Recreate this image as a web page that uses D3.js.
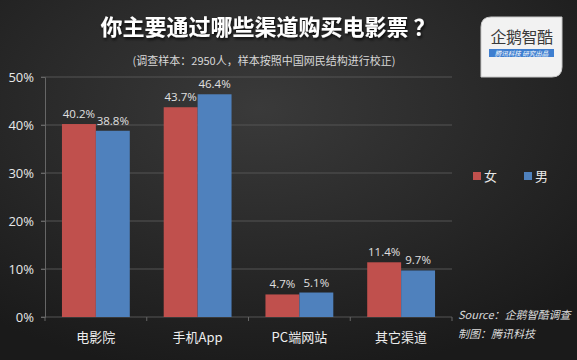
<!DOCTYPE html>
<html>
<head>
<meta charset="utf-8">
<script src="https://cdn.jsdelivr.net/npm/d3@7"></script>
<style>
  html, body { margin: 0; padding: 0; background: #222; }
  svg { display: block; font-family: "Noto Sans CJK SC", "Noto Sans", sans-serif; }
</style>
</head>
<body>
<svg width="577" height="360"></svg>
<script>
const CATEGORIES = ['电影院', '手机App', 'PC端网站', '其它渠道'];
const SERIES = ['女', '男'];
const FEMALE = [40.2, 43.7, 4.7, 11.4];
const MALE = [38.8, 46.4, 5.1, 9.7];
const Y_TICKS = [0, 10, 20, 30, 40, 50];
const COLORS = ['#c0504d', '#4f81bd'];

const W = 577, H = 360;
const PLOT = {left: 45, right: 452, top: 77, bottom: 317};

const svg = d3.select('svg');

// background
const defs = svg.append('defs');
const grad = defs.append('radialGradient').attr('id', 'bg')
    .attr('cx', '45%').attr('cy', '30%').attr('r', '75%');
grad.append('stop').attr('offset', '0%').attr('stop-color', '#3a3a3a');
grad.append('stop').attr('offset', '100%').attr('stop-color', '#1a1a1a');
svg.append('rect').attr('width', W).attr('height', H).attr('fill', 'url(#bg)');

const shadow = defs.append('filter').attr('id', 'sh').attr('x', '-10%').attr('y', '-30%')
    .attr('width', '120%').attr('height', '160%');
shadow.append('feDropShadow').attr('dx', 1).attr('dy', 2).attr('stdDeviation', 1.5)
    .attr('flood-color', '#000').attr('flood-opacity', 0.8);

// title
svg.append('text')
    .attr('x', 268).attr('y', 35)
    .attr('text-anchor', 'middle')
    .attr('fill', '#fff')
    .attr('font-size', 22).attr('font-weight', 'bold')
    .attr('filter', 'url(#sh)')
    .text('你主要通过哪些渠道购买电影票 ？');

svg.append('text')
    .attr('x', 264).attr('y', 65)
    .attr('text-anchor', 'middle')
    .attr('fill', '#d8d8d8')
    .attr('font-size', 11)
    .text('(调查样本：2950人，样本按照中国网民结构进行校正)');

// logo
const logo = svg.append('g').attr('transform', 'translate(481,17)');
logo.append('path')
    .attr('d', 'M10,0 H81 V50 Q81,60 71,60 H0 V10 Q0,0 10,0 Z')
    .attr('fill', '#f2f2f2').attr('stroke', '#c8c8c8');
logo.append('text').attr('x', 40.5).attr('y', 26).attr('text-anchor', 'middle')
    .attr('font-size', 16).attr('fill', '#3a3a3a').attr('letter-spacing', -0.5).text('企鹅智酷');
logo.append('rect').attr('x', 8).attr('y', 32).attr('width', 65).attr('height', 8)
    .attr('fill', '#3f7fd0');
logo.append('text').attr('x', 40.5).attr('y', 38.5).attr('text-anchor', 'middle')
    .attr('font-size', 6.5).attr('fill', '#fff').attr('font-style', 'italic')
    .text('腾讯科技  研究出品');

// scales
const x0 = d3.scaleBand().domain(CATEGORIES).range([PLOT.left, PLOT.right]).paddingInner(1 / 3).paddingOuter(1 / 6);
const x1 = d3.scaleBand().domain(SERIES).range([0, x0.bandwidth()]);
const y = d3.scaleLinear().domain([0, 50]).range([PLOT.bottom, PLOT.top]);

// gridlines
svg.append('g')
    .selectAll('line')
    .data(Y_TICKS)
    .join('line')
    .attr('x1', PLOT.left - 4).attr('x2', PLOT.right)
    .attr('y1', d => y(d)).attr('y2', d => y(d))
    .attr('stroke', '#555').attr('stroke-width', 1);

// y axis
const yAxis = svg.append('g')
    .attr('transform', `translate(${PLOT.left},0)`)
    .call(d3.axisLeft(y).tickValues(Y_TICKS).tickFormat(d => d + '%').tickSize(4).tickPadding(7));
yAxis.select('.domain').attr('stroke', '#666');
yAxis.selectAll('.tick line').attr('stroke', '#666');
yAxis.selectAll('text').attr('fill', '#e8e8e8').attr('font-size', 13)
    .attr('font-family', '"Open Sans", "Noto Sans", sans-serif');

// x axis tick marks at category boundaries
const step = x0.step();
const bounds = d3.range(CATEGORIES.length + 1).map(i => PLOT.left + i * step);
svg.append('g').selectAll('line')
    .data(bounds)
    .join('line')
    .attr('x1', d => d).attr('x2', d => d)
    .attr('y1', PLOT.bottom).attr('y2', PLOT.bottom + 4)
    .attr('stroke', '#666');

// bars
const rows = CATEGORIES.map((c, i) => ({cat: c, vals: [FEMALE[i], MALE[i]]}));
const groups = svg.append('g').selectAll('g')
    .data(rows)
    .join('g')
    .attr('transform', d => `translate(${x0(d.cat)},0)`);

groups.selectAll('rect')
    .data(d => d.vals.map((v, j) => ({s: SERIES[j], v, j})))
    .join('rect')
    .attr('x', d => x1(d.s))
    .attr('width', x1.bandwidth())
    .attr('y', d => y(d.v))
    .attr('height', d => y(0) - y(d.v))
    .attr('fill', d => COLORS[d.j]);

groups.selectAll('text.label')
    .data(d => d.vals.map((v, j) => ({s: SERIES[j], v, j})))
    .join('text')
    .classed('label', true)
    .attr('x', d => x1(d.s) + x1.bandwidth() / 2)
    .attr('y', d => y(d.v) - 6)
    .attr('text-anchor', 'middle')
    .attr('fill', '#e0e0e0')
    .attr('font-size', 11.5)
    .attr('font-family', '"Open Sans", "Noto Sans", sans-serif')
    .text(d => d.v.toFixed(1) + '%');

// category labels
svg.append('g').selectAll('text')
    .data(CATEGORIES)
    .join('text')
    .attr('x', d => x0(d) + x0.bandwidth() / 2)
    .attr('y', 342)
    .attr('text-anchor', 'middle')
    .attr('fill', '#eee')
    .attr('font-size', 13)
    .text(d => d);

// legend
const legend = svg.append('g').attr('transform', 'translate(473,176)');
SERIES.forEach((s, i) => {
  const g = legend.append('g').attr('transform', `translate(${i * 51},0)`);
  g.append('rect').attr('x', 0).attr('y', -4).attr('width', 8).attr('height', 8).attr('fill', COLORS[i]);
  g.append('text').attr('x', 11).attr('y', 5).attr('fill', '#e8e8e8').attr('font-size', 13).text(s);
});

// source
svg.append('text').attr('x', 458).attr('y', 319)
    .attr('fill', '#ddd').attr('font-size', 11).attr('font-style', 'italic')
    .text('Source：企鹅智酷调查');
svg.append('text').attr('x', 458).attr('y', 338)
    .attr('fill', '#ddd').attr('font-size', 11).attr('font-style', 'italic')
    .text('制图：腾讯科技');
</script>
</body>
</html>
